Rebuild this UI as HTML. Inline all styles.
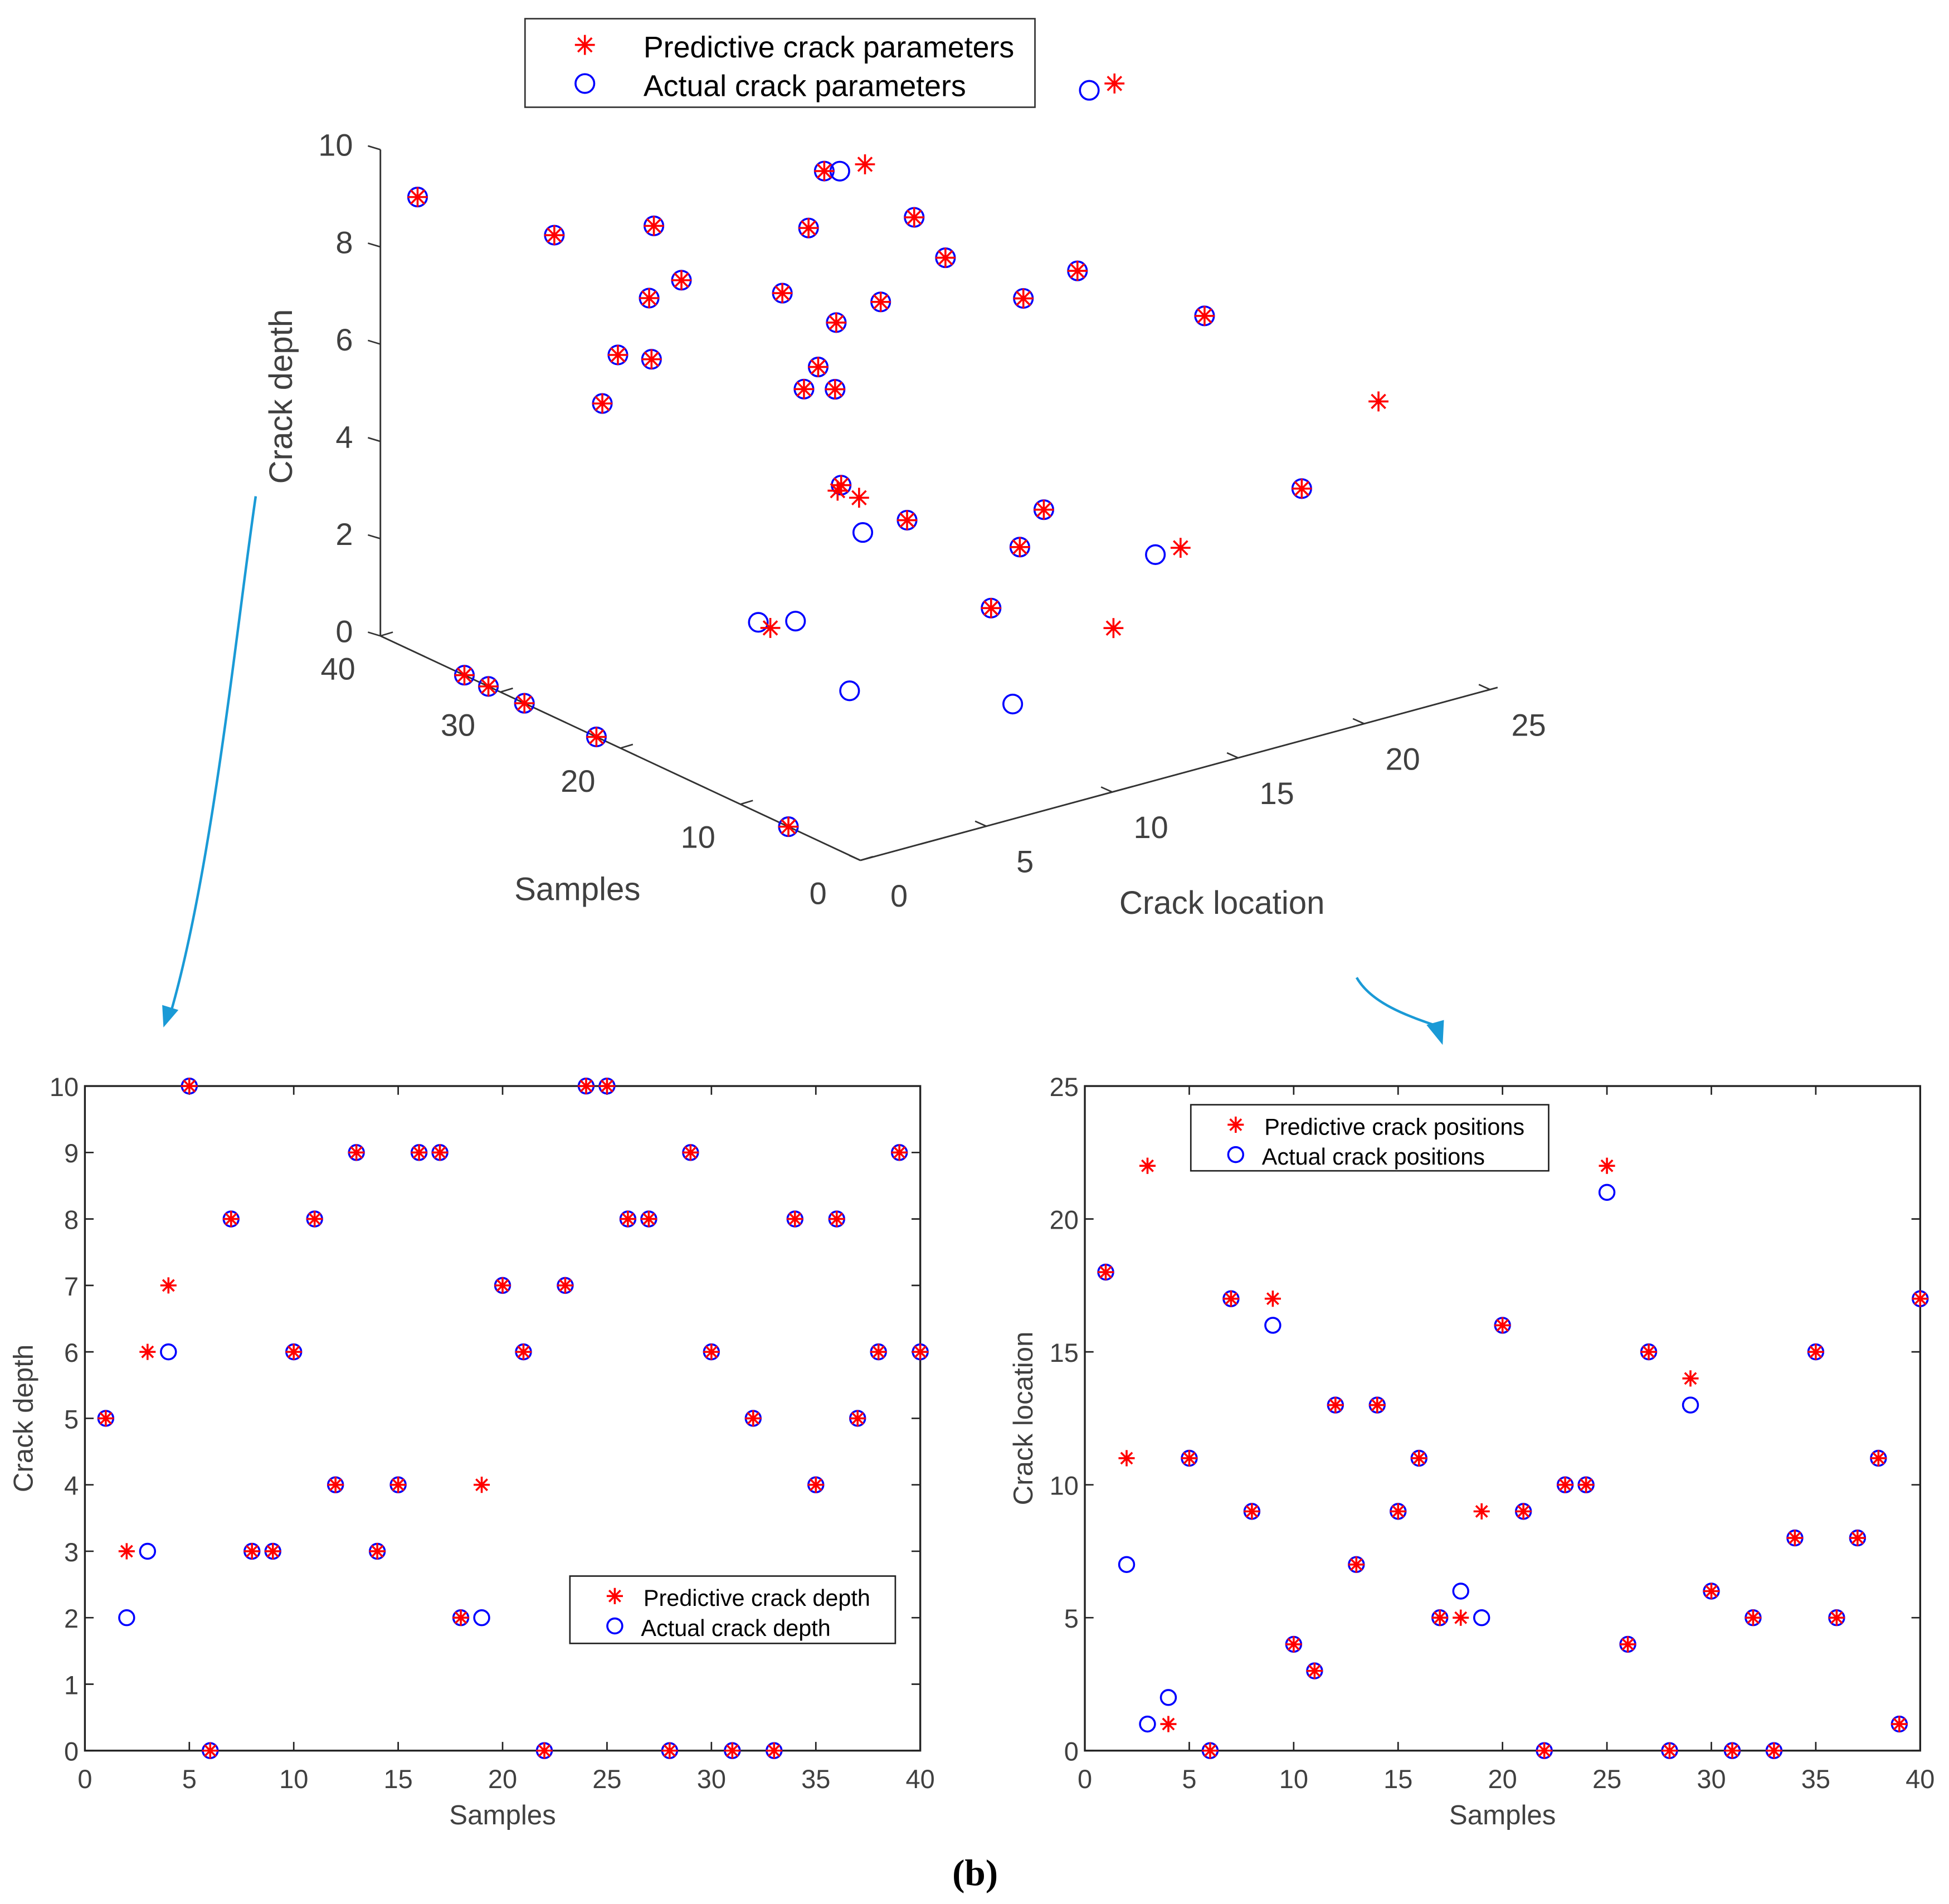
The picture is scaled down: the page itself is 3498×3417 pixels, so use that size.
<!DOCTYPE html>
<html><head><meta charset="utf-8"><style>
html,body{margin:0;padding:0;background:#fff;}
svg{display:block;}
text{font-family:"Liberation Sans",Arial,sans-serif;fill:#404040;}
</style></head><body>
<svg id="fig" width="3498" height="3417" viewBox="0 0 1563 1527" xmlns="http://www.w3.org/2000/svg">
<g id="g3d"></g>
<g id="gL"></g>
<g id="gR"></g>
<path d="M205,398 C190,500 170,700 136,815" fill="none" stroke="#1a9ad6" stroke-width="2"/>
<polygon points="131,824 130,806 143,810" fill="#1a9ad6"/>
<path d="M1088,784 C1100,805 1130,815 1150,822" fill="none" stroke="#1a9ad6" stroke-width="2"/>
<polygon points="1157,838 1144,822 1158,818" fill="#1a9ad6"/>
<text x="782" y="1512" text-anchor="middle" font-size="30" font-weight="bold" style="font-family:'Liberation Serif',serif;fill:#000">(b)</text>
</svg>
<script>
const samples = Array.from({length:40},(_,i)=>i+1);
const actualDepth = [5,2,3,6,10,0,8,3,3,6,8,4,9,3,4,9,9,2,2,7,6,0,7,10,10,8,8,0,9,6,0,5,0,8,4,8,5,6,9,6];
const predDepth   = [5,3,6,7,10,0,8,3,3,6,8,4,9,3,4,9,9,2,4,7,6,0,7,10,10,8,8,0,9,6,0,5,0,8,4,8,5,6,9,6];
const actualLoc = [18,7,1,2,11,0,17,9,16,4,3,13,7,13,9,11,5,6,5,16,9,0,10,10,21,4,15,0,13,6,0,5,0,8,15,5,8,11,1,17];
const predLoc   = [18,11,22,1,11,0,17,9,17,4,3,13,7,13,9,11,5,5,9,16,9,0,10,10,22,4,15,0,14,6,0,5,0,8,15,5,8,11,1,17];
const xTicks = [0,5,10,15,20,25,30,35,40];
const depthTicks = [0,1,2,3,4,5,6,7,8,9,10];
const locTicks = [0,5,10,15,20,25];
const z3Ticks = [0,2,4,6,8,10];
const s3Ticks = [0,10,20,30,40];
const l3Ticks = [0,5,10,15,20,25];

const NS="http://www.w3.org/2000/svg";
function mk(parent,tag,attrs,txt){const e=document.createElementNS(NS,tag);for(const k in attrs)e.setAttribute(k,attrs[k]);if(txt!==undefined)e.textContent=txt;parent.appendChild(e);return e;}
function star(g,x,y,r,name){
  const p=mk(g,'path',{d:`M${x-r},${y}H${x+r}M${x},${y-r}V${y+r}M${x-r*0.7},${y-r*0.7}L${x+r*0.7},${y+r*0.7}M${x-r*0.7},${y+r*0.7}L${x+r*0.7},${y-r*0.7}`,stroke:'#ff0000','stroke-width':1.6,fill:'none'});
  
  
}
function circ(g,x,y,r,name){
  const c=mk(g,'circle',{cx:x,cy:y,r:r,stroke:'#0000ff','stroke-width':1.6,fill:'none'});
  
  
}

// 3D chart
const g3=document.getElementById('g3d');
const O={x:690,y:690};
function p3(s,l,d){return {x:O.x+s*-9.625+l*20.2, y:O.y+s*-4.5+l*-5.48+d*-39};}
{
  const sEnd=p3(40,0,0), lEnd=p3(0,25.3,0), zTop=p3(40,0,10);
  mk(g3,'path',{d:`M${O.x},${O.y}L${sEnd.x},${sEnd.y}M${O.x},${O.y}L${lEnd.x},${lEnd.y}M${sEnd.x},${sEnd.y}L${zTop.x},${zTop.y}`,stroke:'#333','stroke-width':1.3,fill:'none'});
  z3Ticks.forEach(v=>{const p=p3(40,0,v);mk(g3,'line',{x1:p.x,y1:p.y,x2:p.x-10,y2:p.y-3,stroke:'#333','stroke-width':1.2});
    const t=mk(g3,'text',{x:p.x-22,y:p.y+5,'text-anchor':'end','font-size':25},v);
    
    });
  s3Ticks.forEach(v=>{const p=p3(v,0,0);mk(g3,'line',{x1:p.x,y1:p.y,x2:p.x+10,y2:p.y-3,stroke:'#333','stroke-width':1.2});
    const t=mk(g3,'text',{x:p.x-34,y:p.y+35,'text-anchor':'middle','font-size':25},v);
    
    });
  l3Ticks.forEach(v=>{const p=p3(0,v,0);mk(g3,'line',{x1:p.x,y1:p.y,x2:p.x-9,y2:p.y-4,stroke:'#333','stroke-width':1.2});
    const t=mk(g3,'text',{x:p.x+31,y:p.y+37,'text-anchor':'middle','font-size':25},v);
    
    });
  let t=mk(g3,'text',{x:0,y:0,'font-size':26,'text-anchor':'middle',transform:'translate(234,318) rotate(-90)'},'Crack depth');
  
  t=mk(g3,'text',{x:463,y:722,'font-size':26,'text-anchor':'middle'},'Samples');
  
  t=mk(g3,'text',{x:980,y:733,'font-size':26,'text-anchor':'middle'},'Crack location');
  
  samples.forEach((s,i)=>{const a=p3(s,actualLoc[i],actualDepth[i]);circ(g3,a.x,a.y,7.5,'actual-point-3d');});
  samples.forEach((s,i)=>{const a=p3(s,predLoc[i],predDepth[i]);star(g3,a.x,a.y,8,'predicted-point-3d');});
  const lg=mk(g3,'g',{});
  mk(lg,'rect',{x:421,y:15,width:409,height:71,fill:'#fff',stroke:'#333','stroke-width':1.2});
  star(lg,469,36,8,'legend-marker-predicted');circ(lg,469,67,7.5,'legend-marker-actual');
  t=mk(lg,'text',{x:516,y:46,'font-size':24,style:'fill:#000'},'Predictive crack parameters');
  
  t=mk(lg,'text',{x:516,y:77,'font-size':24,style:'fill:#000'},'Actual crack parameters');
  
}

// 2D charts
function chart2d(gid,L,R,T,B,ymax,yTicks,act,pred,ytitle,ytx,legend,leg){
  const g=document.getElementById(gid);
  const xs=v=>L+(R-L)*v/40, ys=v=>B-(B-T)*v/ymax;
  mk(g,'rect',{x:L,y:T,width:R-L,height:B-T,fill:'none',stroke:'#222','stroke-width':1.5});
  xTicks.forEach(v=>{const x=xs(v);mk(g,'path',{d:`M${x},${B}v-7M${x},${T}v7`,stroke:'#222','stroke-width':1.2});
    const t=mk(g,'text',{x:x,y:B+30,'text-anchor':'middle','font-size':21},v);
    });
  yTicks.forEach(v=>{const y=ys(v);mk(g,'path',{d:`M${L},${y}h7M${R},${y}h-7`,stroke:'#222','stroke-width':1.2});
    const t=mk(g,'text',{x:L-5,y:y+8,'text-anchor':'end','font-size':21},v);
    });
  let t=mk(g,'text',{x:(L+R)/2,y:B+59,'text-anchor':'middle','font-size':22},'Samples');
  
  t=mk(g,'text',{x:0,y:0,'text-anchor':'middle','font-size':22,transform:`translate(${ytx},${(T+B)/2}) rotate(-90)`},ytitle);
  
  samples.forEach((s,i)=>circ(g,xs(s),ys(act[i]),6,'actual-point'));
  samples.forEach((s,i)=>star(g,xs(s),ys(pred[i]),6.5,'predicted-point'));
  const lg=mk(g,'g',{});
  mk(lg,'rect',{x:leg[0],y:leg[1],width:leg[2],height:leg[3],fill:'#fff',stroke:'#222','stroke-width':1.2});
  star(lg,leg[0]+36,leg[1]+16,6.5,'legend-marker-predicted');circ(lg,leg[0]+36,leg[1]+40,6,'legend-marker-actual');
  t=mk(lg,'text',{x:leg[0]+59,y:leg[1]+24,'font-size':18.5,style:'fill:#000'},legend[0]);
  
  t=mk(lg,'text',{x:leg[0]+57,y:leg[1]+48,'font-size':18.5,style:'fill:#000'},legend[1]);
  
}
chart2d('gL',68,738,871,1404,10,depthTicks,actualDepth,predDepth,'Crack depth',26,['Predictive crack depth','Actual crack depth'],[457,1264,261,54]);
chart2d('gR',870,1540,871,1404,25,locTicks,actualLoc,predLoc,'Crack location',828,['Predictive crack positions','Actual crack positions'],[955,886,287,53]);
</script>
</body></html>
